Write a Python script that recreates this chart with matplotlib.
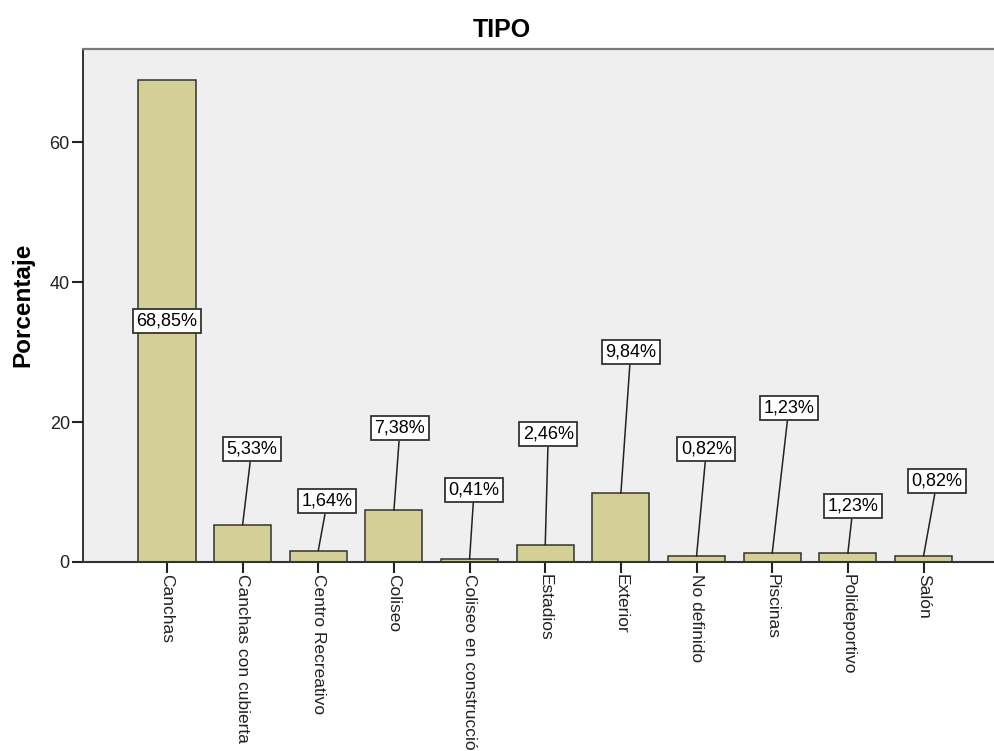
import matplotlib
matplotlib.use('Agg')
import matplotlib.pyplot as plt
import numpy as np

plt.rcParams['font.family'] = ['Liberation Sans', 'DejaVu Sans']

# porcentaje por tipo de escenario
tipos = ['Canchas', 'Canchas con cubierta', 'Centro Recreativo', 'Coliseo',
         'Coliseo en construcción', 'Estadios', 'Exterior', 'No definido',
         'Piscinas', 'Polideportivo', 'Salón']
porcentajes = [68.85, 5.33, 1.64, 7.38, 0.41, 2.46, 9.84, 0.82, 1.23, 1.23, 0.82]

# donde va cada etiqueta (desplazamiento x, altura y); None = dentro de la barra
etiqueta_pos = [None, (0.12, 16.1), (0.12, 8.7), (0.08, 19.1), (0.06, 10.3),
                (0.04, 18.3), (0.13, 30.0), (0.13, 16.1), (0.22, 22.0),
                (0.07, 8.0), (0.18, 11.6)]

color_barra = '#d3cf97'
fondo = '#efefef'

fig = plt.figure(figsize=(9.95, 7.51), dpi=100)
ax = fig.add_axes([83/995, 189/751, 912/995, 513/751])
ax.set_facecolor(fondo)

x = np.arange(len(tipos))
ax.bar(x, porcentajes, width=0.755, color=color_barra, edgecolor='#333333',
       linewidth=1.1, zorder=2)

caja = dict(boxstyle='square,pad=0.2', fc='white', ec='#333333', lw=1.3)
for i, (v, pos) in enumerate(zip(porcentajes, etiqueta_pos)):
    txt = f'{v:.2f}%'.replace('.', ',')
    if pos is None:
        ax.text(i, v / 2, txt, ha='center', va='center', fontsize=13,
                bbox=caja, zorder=4)
    else:
        dx, ty = pos
        ax.annotate(txt, xy=(i, v), xytext=(i + dx, ty), ha='center',
                    va='center', fontsize=13, bbox=caja, zorder=4,
                    arrowprops=dict(arrowstyle='-', color='#222222', lw=1.1,
                                    shrinkA=0, shrinkB=0))

ax.set_xlim(-1.11, 10.945)
ax.set_ylim(0, 73.3)
ax.set_yticks([0, 20, 40, 60])
ax.set_xticks(x)
ax.set_xticklabels(tipos, rotation=-90, ha='center', va='top', fontsize=12.5)
ax.tick_params(axis='y', length=8, width=1.5, pad=1.5, labelsize=13,
               colors='#222222')
ax.tick_params(axis='x', length=8, width=1.5, pad=0.5, colors='#222222')

ax.spines['right'].set_visible(False)
ax.spines['top'].set_color('#7a7a7a')
ax.spines['top'].set_linewidth(1.6)
ax.spines['left'].set_color('#111111')
ax.spines['left'].set_linewidth(1.2)
ax.spines['bottom'].set_color('#333333')
ax.spines['bottom'].set_linewidth(1.5)

fig.text(502/995, 1 - 37/751, 'TIPO', ha='center', va='baseline',
         fontsize=18, fontweight='bold')
fig.text(23/995, 1 - 305/751, 'Porcentaje', ha='center', va='center',
         rotation=90, fontsize=17.5, fontweight='bold')

fig.savefig('out.png', dpi=100, facecolor='white')
